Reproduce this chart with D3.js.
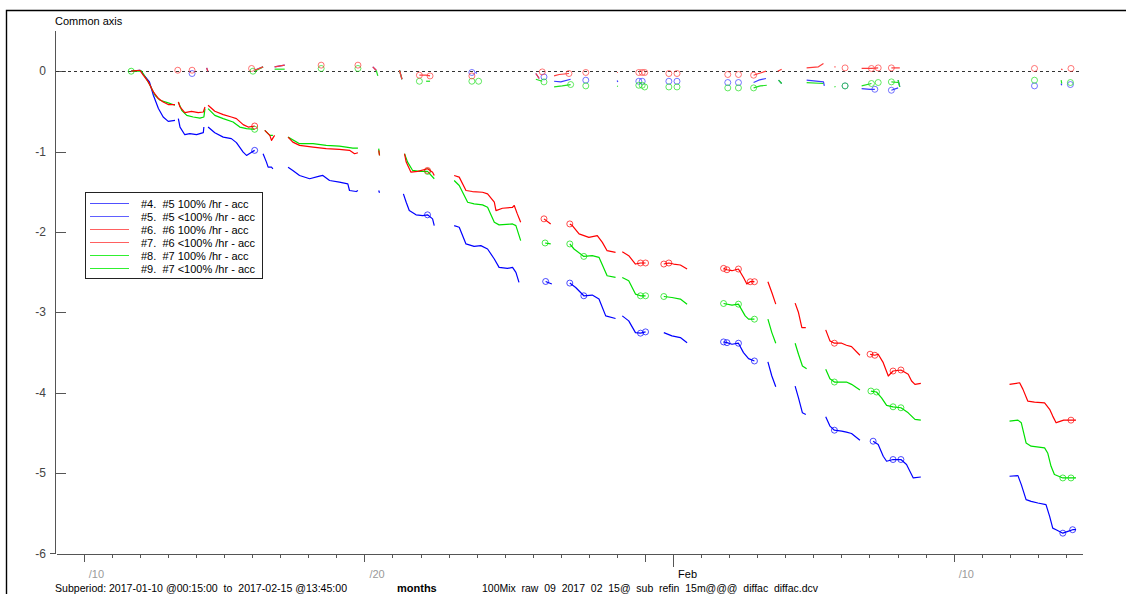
<!DOCTYPE html>
<html><head><meta charset="utf-8">
<script src="https://cdn.jsdelivr.net/npm/d3@7"></script>
<style>
body{margin:0;background:#fff;overflow:hidden}
svg{display:block}
text{font-family:"Liberation Sans",Arial,sans-serif}
</style>
</head><body>
<svg id="c" width="1126" height="594"></svg>
<script>
// ---- data (x = day of year 2017 counted from Jan 1 00:00, y = common axis value) ----
const legendLabels = [
  "#4.  #5 100% /hr - acc",
  "#5.  #5 <100% /hr - acc",
  "#6.  #6 100% /hr - acc",
  "#7.  #6 <100% /hr - acc",
  "#8.  #7 100% /hr - acc",
  "#9.  #7 <100% /hr - acc"
];
const seriesColors = ["#0000ff","#3a3aff","#ff0000","#ff3a3a","#00e000","#20e020"];
const legendColors = ["#5050ff","#6060ff","#ff6060","#ff6060","#30f030","#30f030"];

const yTickValues = [0,-1,-2,-3,-4,-5,-6];
const yTickLabels = ["0","-1","-2","-3","-4","-5","-6"];
const xDomain = [9.0104, 45.573];           // 2017-01-10 00:15 .. 2017-02-15 13:45
const xMinorTicks = d3.range(10, 46);       // every day boundary
const xTenDayTicks = [10, 20, 30, 41];
const xMonthTicks = [31];
const xLabelDays = [10, 20, 31, 41];
const xTickLabels = ["/10", "/20", "Feb", "/10"];

// #4 blue accumulated
const blueAcc = [
 [[11.69,0],[12.00,0.012],[12.34,-0.133],[12.48,-0.299],[12.66,-0.465],[12.83,-0.570],[13.01,-0.624],[13.25,-0.611]],
 [[13.37,-0.590],[13.43,-0.695],[13.60,-0.790],[13.78,-0.777],[14.02,-0.790],[14.26,-0.765],[14.28,-0.695]],
 [[14.43,-0.695],[14.67,-0.765],[14.97,-0.820],[15.26,-0.839],[15.44,-0.889],[15.68,-1.007],[15.80,-1.048],[15.98,-1.007],[16.09,-0.985]],
 [[16.39,-1.027],[16.51,-1.131],[16.57,-1.194],[16.69,-1.194],[16.74,-1.214]],
 [[17.28,-1.194],[17.45,-1.235],[17.69,-1.297],[18.05,-1.338],[18.40,-1.306],[18.52,-1.297],[18.76,-1.360],[19.11,-1.381],[19.41,-1.401],[19.47,-1.484],[19.71,-1.497],[19.77,-1.484]],
 [[20.51,-1.484],[20.54,-1.513]],
 [[21.39,-1.526],[21.49,-1.630],[21.60,-1.734],[21.84,-1.787],[22.08,-1.796],[22.25,-1.787],[22.43,-1.837],[22.49,-1.921]],
 [[23.20,-1.921],[23.38,-1.942],[23.62,-2.149],[23.91,-2.179],[24.15,-2.170],[24.39,-2.212],[24.63,-2.336],[24.80,-2.441],[25.10,-2.453],[25.28,-2.441],[25.40,-2.503],[25.51,-2.628]],
 [[26.46,-2.616],[26.68,-2.648]],
 [[27.32,-2.636],[27.53,-2.691],[27.82,-2.794],[28.12,-2.785],[28.36,-2.835],[28.60,-3.044],[28.95,-3.077]],
 [[29.19,-3.044],[29.42,-3.106],[29.66,-3.252],[29.84,-3.259],[30.02,-3.243]],
 [[30.67,-3.252],[30.96,-3.293],[31.26,-3.314],[31.50,-3.377]],
 [[32.80,-3.368],[32.92,-3.377],[33.10,-3.397],[33.33,-3.384],[33.51,-3.501],[33.69,-3.576],[33.90,-3.605]],
 [[34.38,-3.617],[34.52,-3.792],[34.66,-3.925]],
 [[35.35,-3.917],[35.47,-4.063],[35.61,-4.250],[35.73,-4.270]],
 [[36.44,-4.300],[36.59,-4.415],[36.75,-4.466],[37.01,-4.478],[37.18,-4.491],[37.36,-4.507],[37.66,-4.590]],
 [[38.13,-4.603],[38.31,-4.644],[38.49,-4.790],[38.61,-4.852],[38.84,-4.831],[39.12,-4.831],[39.32,-4.893],[39.44,-4.977],[39.56,-5.060],[39.83,-5.048]],
 [[42.99,-5.039],[43.29,-5.031],[43.41,-5.143],[43.58,-5.330],[43.76,-5.351],[44.00,-5.372],[44.29,-5.392],[44.42,-5.538],[44.53,-5.684],[44.65,-5.704],[44.89,-5.747],[45.07,-5.725],[45.24,-5.704],[45.36,-5.704]]
];
const blueAccMarks = [[16.09,-0.985],[22.25,-1.787],[26.46,-2.616],[27.32,-2.636],[27.82,-2.794],[29.84,-3.259],[30.02,-3.243],[32.80,-3.368],[32.92,-3.377],[33.33,-3.384],[33.90,-3.605],[36.75,-4.466],[38.13,-4.603],[38.84,-4.831],[39.12,-4.831],[44.89,-5.747],[45.24,-5.704]];

// #6 red accumulated
const redAcc = [
 [[11.69,0],[12.00,0.012],[12.12,-0.050],[12.30,-0.133],[12.48,-0.258],[12.66,-0.341],[12.83,-0.383],[13.01,-0.415],[13.25,-0.415]],
 [[13.37,-0.383],[13.43,-0.445],[13.60,-0.515],[13.84,-0.499],[14.08,-0.515],[14.26,-0.508],[14.32,-0.445]],
 [[14.43,-0.424],[14.67,-0.499],[14.97,-0.540],[15.26,-0.570],[15.44,-0.590],[15.68,-0.665],[15.86,-0.695],[16.09,-0.682]],
 [[16.45,-0.736],[16.63,-0.798],[16.69,-0.861],[16.80,-0.798]],
 [[17.28,-0.820],[17.45,-0.882],[17.69,-0.923],[18.17,-0.944],[18.64,-0.964],[19.11,-0.973],[19.47,-0.985],[19.65,-1.027],[19.77,-1.014]],
 [[20.51,-0.985],[20.54,-1.048]],
 [[21.43,-1.027],[21.49,-1.131],[21.66,-1.256],[21.90,-1.247],[22.25,-1.214],[22.43,-1.256],[22.49,-1.297]],
 [[23.20,-1.297],[23.38,-1.318],[23.62,-1.484],[23.85,-1.497],[24.21,-1.506],[24.39,-1.526],[24.63,-1.630],[24.69,-1.734],[24.92,-1.705],[25.28,-1.693],[25.34,-1.671],[25.45,-1.775],[25.57,-1.880]],
 [[26.40,-1.837],[26.64,-1.900]],
 [[27.32,-1.900],[27.41,-1.921],[27.65,-2.024],[28.00,-2.067],[28.30,-2.046],[28.48,-2.129],[28.65,-2.233],[28.95,-2.254]],
 [[29.19,-2.245],[29.42,-2.295],[29.66,-2.399],[29.84,-2.386],[30.02,-2.386]],
 [[30.67,-2.399],[30.85,-2.386],[31.02,-2.399],[31.26,-2.411],[31.50,-2.461]],
 [[32.80,-2.453],[32.92,-2.470],[33.10,-2.482],[33.33,-2.461],[33.51,-2.566],[33.63,-2.648],[33.75,-2.619],[33.90,-2.619]],
 [[34.38,-2.619],[34.52,-2.753],[34.66,-2.898]],
 [[35.35,-2.885],[35.47,-3.002],[35.59,-3.189],[35.73,-3.189]],
 [[36.44,-3.218],[36.59,-3.355],[36.75,-3.384],[37.01,-3.384],[37.18,-3.409],[37.36,-3.427],[37.66,-3.534]],
 [[38.02,-3.521],[38.19,-3.534],[38.31,-3.521],[38.49,-3.626],[38.67,-3.792],[38.84,-3.730],[39.12,-3.717],[39.38,-3.771],[39.50,-3.854],[39.62,-3.896],[39.83,-3.883]],
 [[42.99,-3.896],[43.35,-3.876],[43.47,-3.958],[43.64,-4.104],[43.88,-4.116],[44.24,-4.125],[44.42,-4.207],[44.53,-4.291],[44.65,-4.374],[44.71,-4.366],[44.92,-4.341],[45.18,-4.341],[45.36,-4.341]]
];
const redAccMarks = [[16.09,-0.682],[22.25,-1.235],[26.40,-1.837],[27.32,-1.900],[29.84,-2.386],[30.02,-2.386],[30.67,-2.399],[30.85,-2.386],[32.80,-2.453],[32.92,-2.470],[33.33,-2.461],[33.75,-2.619],[33.90,-2.619],[36.75,-3.384],[38.02,-3.521],[38.19,-3.534],[38.84,-3.730],[39.12,-3.717],[45.18,-4.341]];

// #8 green accumulated
const greenAcc = [
 [[11.69,0],[12.05,0.005],[12.17,-0.060],[12.36,-0.175],[12.54,-0.299],[12.72,-0.362],[13.01,-0.395],[13.25,-0.424]],
 [[13.37,-0.383],[13.49,-0.486],[13.67,-0.549],[13.90,-0.570],[14.14,-0.583],[14.28,-0.570],[14.32,-0.465]],
 [[14.43,-0.465],[14.67,-0.549],[14.97,-0.590],[15.32,-0.632],[15.56,-0.695],[15.80,-0.715],[16.09,-0.723]],
 [[16.45,-0.736],[16.63,-0.798],[16.74,-0.798]],
 [[17.28,-0.820],[17.69,-0.902],[18.17,-0.902],[18.64,-0.923],[19.11,-0.932],[19.59,-0.957],[19.77,-0.957]],
 [[20.51,-0.964],[20.54,-1.048]],
 [[21.43,-1.027],[21.54,-1.131],[21.72,-1.235],[21.96,-1.247],[22.25,-1.247],[22.49,-1.338]],
 [[23.20,-1.360],[23.38,-1.422],[23.68,-1.630],[23.91,-1.650],[24.21,-1.663],[24.39,-1.693],[24.63,-1.880],[24.80,-1.912],[25.28,-1.900],[25.40,-1.921],[25.57,-2.108]],
 [[26.44,-2.137],[26.64,-2.149]],
 [[27.32,-2.149],[27.47,-2.212],[27.82,-2.304],[28.12,-2.295],[28.36,-2.316],[28.65,-2.545],[28.95,-2.566]],
 [[29.19,-2.566],[29.42,-2.607],[29.66,-2.773],[29.84,-2.794],[30.02,-2.794]],
 [[30.67,-2.803],[30.96,-2.815],[31.26,-2.835],[31.50,-2.898]],
 [[32.80,-2.890],[33.10,-2.910],[33.33,-2.898],[33.57,-3.044],[33.69,-3.085],[33.90,-3.085]],
 [[34.38,-3.085],[34.52,-3.252],[34.66,-3.384]],
 [[35.35,-3.384],[35.47,-3.521],[35.61,-3.667],[35.76,-3.701]],
 [[36.44,-3.708],[36.59,-3.826],[36.75,-3.867],[37.01,-3.867],[37.18,-3.867],[37.36,-3.896],[37.66,-3.966]],
 [[38.05,-3.979],[38.25,-3.991],[38.43,-4.063],[38.61,-4.157],[38.84,-4.175],[39.12,-4.187],[39.38,-4.250],[39.62,-4.332],[39.83,-4.341]],
 [[42.99,-4.353],[43.29,-4.341],[43.41,-4.374],[43.58,-4.624],[43.76,-4.665],[44.24,-4.686],[44.35,-4.749],[44.47,-4.915],[44.59,-5.018],[44.89,-5.060],[45.18,-5.060],[45.36,-5.060]]
];
const greenAccMarks = [[11.69,0],[16.09,-0.723],[22.25,-1.247],[26.44,-2.137],[27.32,-2.149],[27.82,-2.304],[29.84,-2.794],[30.02,-2.794],[30.67,-2.803],[32.80,-2.890],[33.33,-2.898],[33.90,-3.085],[36.75,-3.867],[38.05,-3.979],[38.25,-3.991],[38.84,-4.175],[39.12,-4.187],[44.89,-5.060],[45.18,-5.060]];

// #5 blue <100% (near zero)
const blueZero = [
 [[14.38,0.041],[14.42,0.000]],
 [[16.09,0.012],[16.39,0.054]],
 [[16.80,0.054],[17.16,0.075]],
 [[20.30,0.054],[20.42,0.012]],
 [[21.25,0.012],[21.34,-0.100]],
 [[23.97,-0.010],[24.00,-0.029]],
 [[26.11,-0.029],[26.23,-0.091]],
 [[26.76,-0.125],[27.00,-0.133],[27.35,-0.100]],
 [[29.01,-0.116],[29.03,-0.135]],
 [[33.87,-0.141],[34.05,-0.112],[34.31,-0.091]],
 [[34.76,-0.112],[34.87,-0.153]],
 [[35.76,-0.112],[36.36,-0.133],[36.39,-0.183]],
 [[37.72,-0.216],[38.02,-0.225],[38.19,-0.225]],
 [[38.78,-0.237],[39.02,-0.208]],
 [[39.02,-0.112],[39.08,-0.196]],
 [[44.83,-0.153],[44.85,-0.175]]
];
const blueZeroMarks = [[13.86,-0.029],[23.83,-0.016],[26.40,-0.071],[27.89,-0.112],[29.78,-0.125],[29.90,-0.125],[30.85,-0.125],[31.14,-0.125],[32.95,-0.141],[33.33,-0.141],[37.13,-0.183],[38.19,-0.225],[38.78,-0.237],[43.88,-0.183],[45.16,-0.166]];

// #7 red <100% (near zero)
const redZero = [
 [[14.38,0.041],[14.42,0.000]],
 [[16.09,0.012],[16.39,0.054]],
 [[16.80,0.054],[17.16,0.075]],
 [[20.30,0.054],[20.42,0.012]],
 [[21.25,0.012],[21.34,-0.100]],
 [[21.96,-0.050],[22.20,-0.050],[22.34,-0.059]],
 [[26.11,-0.029],[26.23,-0.091]],
 [[26.76,-0.059],[26.94,-0.041],[27.29,-0.029]],
 [[29.00,-0.016],[29.03,-0.016]],
 [[33.87,-0.050],[34.05,-0.029],[34.31,0.000]],
 [[34.73,0.000],[34.87,0.025]],
 [[35.76,0.041],[36.18,0.054],[36.36,0.096]],
 [[36.75,0.054],[36.79,0.054]],
 [[37.72,0.034],[38.07,0.034],[38.31,0.041]],
 [[38.78,0.041],[39.08,0.041]],
 [[44.83,0.025],[44.88,0.020]]
];
const redZeroMarks = [[13.35,0.012],[13.86,0.012],[15.98,0.034],[18.46,0.075],[19.77,0.075],[21.96,-0.050],[22.34,-0.059],[23.83,-0.059],[26.34,-0.009],[27.29,-0.029],[27.89,-0.016],[29.78,-0.016],[29.90,-0.016],[29.99,-0.016],[30.85,-0.029],[31.14,-0.029],[32.95,-0.041],[33.33,-0.041],[33.87,-0.050],[37.13,0.041],[38.07,0.034],[38.31,0.041],[38.78,0.041],[43.88,0.034],[45.18,0.034]];

// #9 green <100% (near zero)
const greenZero = [
 [[16.09,0.000],[16.39,0.054]],
 [[16.80,0.025],[17.16,0.025]],
 [[20.42,0.012],[20.48,-0.059]],
 [[21.25,0.012],[21.34,-0.100]],
 [[22.20,-0.125],[22.34,-0.125]],
 [[26.11,-0.100],[26.34,-0.125]],
 [[26.76,-0.196],[27.05,-0.183],[27.35,-0.166]],
 [[29.01,-0.183],[29.03,-0.190]],
 [[33.87,-0.208],[34.11,-0.183],[34.34,-0.175]],
 [[34.76,-0.112],[34.87,-0.153]],
 [[35.76,-0.141],[36.36,-0.153]],
 [[36.75,-0.196],[36.79,-0.190]],
 [[37.72,-0.183],[38.07,-0.153]],
 [[38.78,-0.133],[39.02,-0.141]],
 [[39.02,-0.112],[39.08,-0.196]],
 [[44.83,-0.112],[44.85,-0.153]]
];
const greenZeroMarks = [[16.03,0.000],[18.46,0.034],[19.77,0.034],[21.96,-0.125],[23.83,-0.125],[24.07,-0.125],[26.40,-0.133],[27.35,-0.166],[27.89,-0.183],[29.78,-0.175],[29.90,-0.175],[29.99,-0.196],[30.85,-0.196],[31.14,-0.196],[32.95,-0.208],[33.33,-0.208],[33.87,-0.208],[37.13,-0.183],[38.07,-0.153],[38.31,-0.141],[38.78,-0.133],[43.88,-0.112],[45.16,-0.141]];

// ---- drawing ----
const svg = d3.select("#c");
const x = d3.scaleLinear().domain(xDomain).range([56, 1082]);
const y = d3.scaleLinear().domain([-6, 0.5]).range([553.5, 31]);
const axisColor = "#555";
const fontStack = '"Liberation Sans", Arial, sans-serif';

// outer frame
svg.append("path").attr("d", "M6.5,594V10.5H1126").attr("fill","none").attr("stroke","#000").attr("stroke-width",1.4);

svg.append("text").attr("x",55).attr("y",25).attr("font-size",11).attr("fill","#000").text("Common axis");

// y axis
const yAxisG = svg.append("g").attr("transform","translate(55.5,0)");
yAxisG.call(d3.axisRight(y).tickValues(yTickValues.slice(0,6)).tickSize(10).tickFormat(""));
yAxisG.select(".domain").remove();
yAxisG.selectAll("line").attr("stroke",axisColor).attr("shape-rendering","crispEdges");
svg.append("line").attr("x1",55.5).attr("x2",55.5).attr("y1",y(0.5)).attr("y2",y(-6))
  .attr("stroke",axisColor).attr("shape-rendering","crispEdges");
svg.append("line").attr("x1",50).attr("x2",55.5).attr("y1",y(-6)).attr("y2",y(-6))
  .attr("stroke",axisColor).attr("shape-rendering","crispEdges");
svg.append("g").selectAll("text").data(yTickValues).join("text")
  .attr("x",46).attr("y",d=>y(d)+4).attr("text-anchor","end")
  .attr("font-size",12).attr("fill","#444").text((d,i)=>yTickLabels[i]);

// x axis
const xBase = y(-6);
const xg = svg.append("g").attr("transform",`translate(0,${xBase})`);
xg.call(d3.axisBottom(x).tickValues(xMinorTicks).tickSize(4).tickFormat("").tickSizeOuter(0));
xg.select(".domain").attr("stroke",axisColor).attr("shape-rendering","crispEdges");
xg.selectAll(".tick line").attr("stroke",axisColor).attr("shape-rendering","crispEdges");
const xg2 = svg.append("g").attr("transform",`translate(0,${xBase})`);
xg2.call(d3.axisBottom(x).tickValues(xTenDayTicks).tickSize(8).tickFormat("").tickSizeOuter(0));
xg2.select(".domain").remove();
xg2.selectAll(".tick line").attr("stroke",axisColor).attr("shape-rendering","crispEdges");
const xg3 = svg.append("g").attr("transform",`translate(0,${xBase})`);
xg3.call(d3.axisBottom(x).tickValues(xMonthTicks).tickSize(13).tickFormat("").tickSizeOuter(0));
xg3.select(".domain").remove();
xg3.selectAll(".tick line").attr("stroke",axisColor).attr("shape-rendering","crispEdges");
svg.append("g").selectAll("text").data(xLabelDays).join("text")
  .attr("x",d=>x(d)+5).attr("y",578).attr("font-size",11)
  .attr("fill",(d,i)=>xTickLabels[i]==="Feb"?"#000":"#9a9a9a")
  .text((d,i)=>xTickLabels[i]);

// zero reference line
svg.append("line").attr("x1",x(xDomain[0])).attr("x2",x(xDomain[1])).attr("y1",y(0)).attr("y2",y(0))
  .attr("stroke","#333").attr("stroke-dasharray","3,3").attr("shape-rendering","crispEdges");

// series
const line = d3.line().x(d=>x(d[0])).y(d=>y(d[1]));
const seriesDefs = [
  {segs: blueAcc, marks: blueAccMarks, color: seriesColors[0]},
  {segs: blueZero, marks: blueZeroMarks, color: seriesColors[1]},
  {segs: greenAcc, marks: greenAccMarks, color: seriesColors[4]},
  {segs: greenZero, marks: greenZeroMarks, color: seriesColors[5]},
  {segs: redAcc, marks: redAccMarks, color: seriesColors[2]},
  {segs: redZero, marks: redZeroMarks, color: seriesColors[3]}
];
seriesDefs.forEach(s => {
  const g = svg.append("g");
  g.selectAll("path").data(s.segs).join("path")
    .attr("d", line).attr("fill","none").attr("stroke", s.color).attr("stroke-width",1.2)
    .attr("stroke-linejoin","round");
  g.selectAll("circle").data(s.marks).join("circle")
    .attr("cx", d=>x(d[0])).attr("cy", d=>y(d[1])).attr("r",3)
    .attr("fill","none").attr("stroke", s.color).attr("stroke-opacity",0.7).attr("stroke-width",1);
});

// legend
const lg = svg.append("g");
lg.append("rect").attr("x",85.5).attr("y",192.5).attr("width",177).attr("height",86)
  .attr("fill","#fff").attr("stroke","#222").attr("shape-rendering","crispEdges");
const rows = lg.selectAll("g.row").data(legendLabels).join("g").attr("class","row")
  .attr("transform",(d,i)=>`translate(0,${203.5 + i*13})`);
rows.append("line").attr("x1",90).attr("x2",129).attr("y1",0).attr("y2",0)
  .attr("stroke",(d,i)=>legendColors[i]).attr("stroke-width",1.2);
rows.append("text").attr("x",141).attr("y",4).attr("font-size",11).attr("fill","#000")
  .style("white-space","pre").text(d=>d);

// footer
svg.append("text").attr("x",55).attr("y",592).attr("font-size",11).style("white-space","pre")
  .attr("textLength",292).attr("lengthAdjust","spacingAndGlyphs")
  .text("Subperiod: 2017-01-10 @00:15:00  to  2017-02-15 @13:45:00");
svg.append("text").attr("x",397).attr("y",592).attr("font-size",11).attr("font-weight","bold")
  .text("months");
svg.append("text").attr("x",482).attr("y",592).attr("font-size",11).style("white-space","pre")
  .attr("textLength",336).attr("lengthAdjust","spacingAndGlyphs")
  .text("100Mix  raw  09  2017  02  15@  sub  refin  15m@@@  diffac  diffac.dcv");
</script>
</body></html>
